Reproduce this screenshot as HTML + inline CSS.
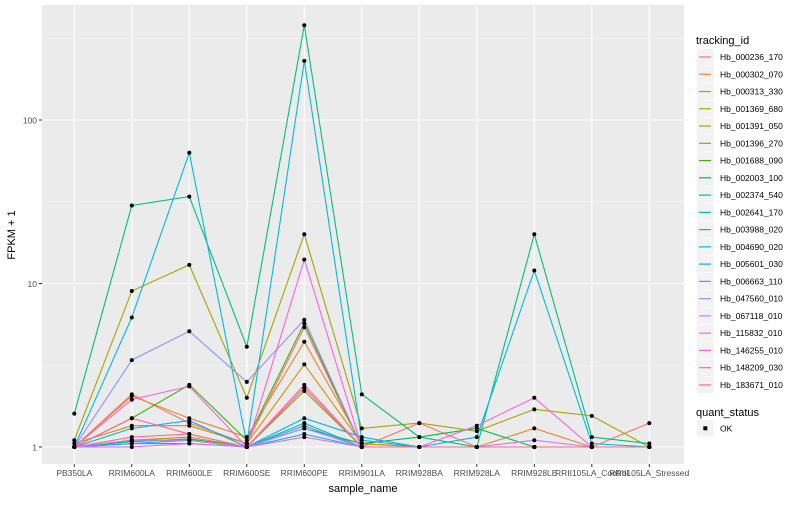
<!DOCTYPE html>
<html><head><meta charset="utf-8"><style>
body{margin:0;background:#fff;font-family:"Liberation Sans",sans-serif;}
svg text{font-family:"Liberation Sans",sans-serif;}
</style></head><body>
<svg id="c" width="800" height="500"></svg>
<script>
const categories=["PB350LA","RRIM600LA","RRIM600LE","RRIM600SE","RRIM600PE","RRIM901LA","RRIM928BA","RRIM928LA","RRIM928LE","RRII105LA_Control","RRII105LA_Stressed"];
const seriesIds=["Hb_000236_170","Hb_000302_070","Hb_000313_330","Hb_001369_680","Hb_001391_050","Hb_001396_270","Hb_001688_090","Hb_002003_100","Hb_002374_540","Hb_002641_170","Hb_003988_020","Hb_004690_020","Hb_005601_030","Hb_006663_110","Hb_047560_010","Hb_067118_010","Hb_115832_010","Hb_146255_010","Hb_148209_030","Hb_183671_010"];
const seriesColors=["#F8766D","#EA8331","#D89000","#C09B00","#A3A500","#7CAE00","#39B600","#00BB4E","#00BF7D","#00C1A3","#00BFC4","#00BAE0","#00B0F6","#35A2FF","#9590FF","#C77CFF","#E76BF3","#FA62DB","#FF62BC","#FF6C91"];
const s0=[1.0,2.1,1.4,1.05,5.4,1.0,1.4,1.0,1.0,1.0,1.4];
const s1=[1.0,2.05,1.5,1.15,4.4,1.05,1.0,1.0,1.3,1.0,1.0];
const s2=[1.05,1.35,1.35,1.05,3.2,1.05,1.0,1.0,1.0,1.0,1.0];
const s3=[1.0,1.1,1.15,1.0,2.3,1.0,1.0,1.0,1.0,1.0,1.0];
const s4=[1.1,9,13,2.0,20,1.3,1.4,1.25,1.7,1.55,1.0];
const s5=[1.0,1.1,1.1,1.0,2.2,1.0,1.0,1.0,1.0,1.0,1.0];
const s6=[1.0,1.5,2.4,1.1,5.7,1.0,1.0,1.0,1.0,1.0,1.0];
const s7=[1.0,1.08,1.12,1.0,1.3,1.05,1.15,1.3,1.0,1.0,1.0];
const s8=[1.6,30,34,4.1,380,2.1,1.15,1.0,20,1.15,1.05];
const s9=[1.0,1.1,1.1,1.0,1.4,1.0,1.0,1.0,1.0,1.0,1.0];
const s10=[1.0,1.05,1.05,1.0,1.2,1.0,1.0,1.0,1.0,1.0,1.0];
const s11=[1.0,6.2,63,1.05,230,1.1,1.0,1.15,12,1.05,1.0];
const s12=[1.0,1.3,1.45,1.0,1.5,1.15,1.0,1.0,1.0,1.0,1.0];
const s13=[1.0,1.05,1.1,1.0,1.35,1.0,1.0,1.0,1.0,1.0,1.0];
const s14=[1.0,3.4,5.1,2.5,6.0,1.0,1.0,1.0,1.0,1.0,1.0];
const s15=[1.0,1.1,1.1,1.0,1.3,1.0,1.0,1.0,1.1,1.0,1.0];
const s16=[1.0,1.0,1.05,1.0,1.15,1.0,1.0,1.0,1.0,1.0,1.0];
const s17=[1.0,1.95,2.35,1.0,14,1.0,1.0,1.35,2.0,1.0,1.0];
const s18=[1.0,1.5,1.2,1.0,2.4,1.0,1.0,1.0,1.0,1.0,1.0];
const s19=[1.0,1.15,1.2,1.0,2.3,1.0,1.0,1.0,1.0,1.0,1.0];
const seriesValues=[s0,s1,s2,s3,s4,s5,s6,s7,s8,s9,s10,s11,s12,s13,s14,s15,s16,s17,s18,s19];
const yTicks=[1,10,100];
const yTickLabels=["1","10","100"];

const NS="http://www.w3.org/2000/svg";
const svg=document.getElementById('c');
function mk(t,a,p){const e=document.createElementNS(NS,t);for(const k in a)e.setAttribute(k,a[k]);(p||svg).appendChild(e);return e;}
const PL=42,PR=684,PT=5,PB=464;
function x(i){return 74.3+57.5*i;}
function y(v){return 447-163.5*Math.log10(v);}

const panel=mk('rect',{x:PL,y:PT,width:PR-PL,height:PB-PT,fill:'#EBEBEB'});


[-0.5,0.5,1.5,2.5].forEach(l=>{const yy=447-163.5*l;if(yy>PT&&yy<PB){const g=mk('line',{x1:PL,x2:PR,y1:yy,y2:yy,stroke:'#F5F5F5','stroke-width':0.6});}});
yTicks.forEach((t,i)=>{
  const g=mk('line',{x1:PL,x2:PR,y1:y(t),y2:y(t),stroke:'#fff','stroke-width':1.1});
  
  
  mk('line',{x1:PL-3,x2:PL,y1:y(t),y2:y(t),stroke:'#333','stroke-width':1});
  const tx=mk('text',{x:PL-5,y:y(t)+3.5,'text-anchor':'end','font-size':8.5,fill:'#4D4D4D'});
  tx.textContent=yTickLabels[i];
  
  
});
categories.forEach((c,i)=>{
  const g=mk('line',{x1:x(i),x2:x(i),y1:PT,y2:PB,stroke:'#fff','stroke-width':1.1});
  
  
  mk('line',{x1:x(i),x2:x(i),y1:PB,y2:PB+3,stroke:'#333','stroke-width':1});
  const tx=mk('text',{x:x(i),y:PB+12,'text-anchor':'middle','font-size':8.5,fill:'#4D4D4D'});
  tx.textContent=c;
  
  
});
seriesValues.forEach((vals,si)=>{
  const pl=mk('polyline',{points:vals.map((v,i)=>x(i)+','+y(v)).join(' '),fill:'none',stroke:seriesColors[si],'stroke-width':1.1});
  
  
});
seriesValues.forEach((vals,si)=>{
  vals.forEach((v,i)=>{
    const r=mk('circle',{cx:x(i),cy:y(v),r:2,fill:'#000'});
    
    
  });
});
let t=mk('text',{x:(PL+PR)/2,y:492,'text-anchor':'middle','font-size':11,fill:'#000'});t.textContent='sample_name';


t=mk('text',{x:0,y:0,'text-anchor':'middle','font-size':11,fill:'#000',transform:'translate(15,235) rotate(-90)'});t.textContent='FPKM + 1';


t=mk('text',{x:696,y:44,'font-size':11,fill:'#000'});t.textContent='tracking_id';


seriesIds.forEach((id,i)=>{
  const cy=57+17.26*i;
  const g=mk('g',{});
  
  
  mk('rect',{x:697,y:cy-8.3,width:16.6,height:16.6,fill:'#F2F2F2'},g);
  mk('line',{x1:699,x2:711,y1:cy,y2:cy,stroke:seriesColors[i],'stroke-width':1.2},g);
  const tx=mk('text',{x:720,y:cy+3,'font-size':8.5,fill:'#000'},g);tx.textContent=id;
});
t=mk('text',{x:696,y:416,'font-size':11,fill:'#000'});t.textContent='quant_status';


const lg=mk('g',{});


mk('rect',{x:697,y:420,width:16.6,height:16.6,fill:'#F2F2F2'},lg);
mk('rect',{x:703.3,y:426.3,width:4,height:4,fill:'#000'},lg);
const ok=mk('text',{x:720,y:431.5,'font-size':8.5,fill:'#000'},lg);ok.textContent='OK';
</script>
</body></html>
